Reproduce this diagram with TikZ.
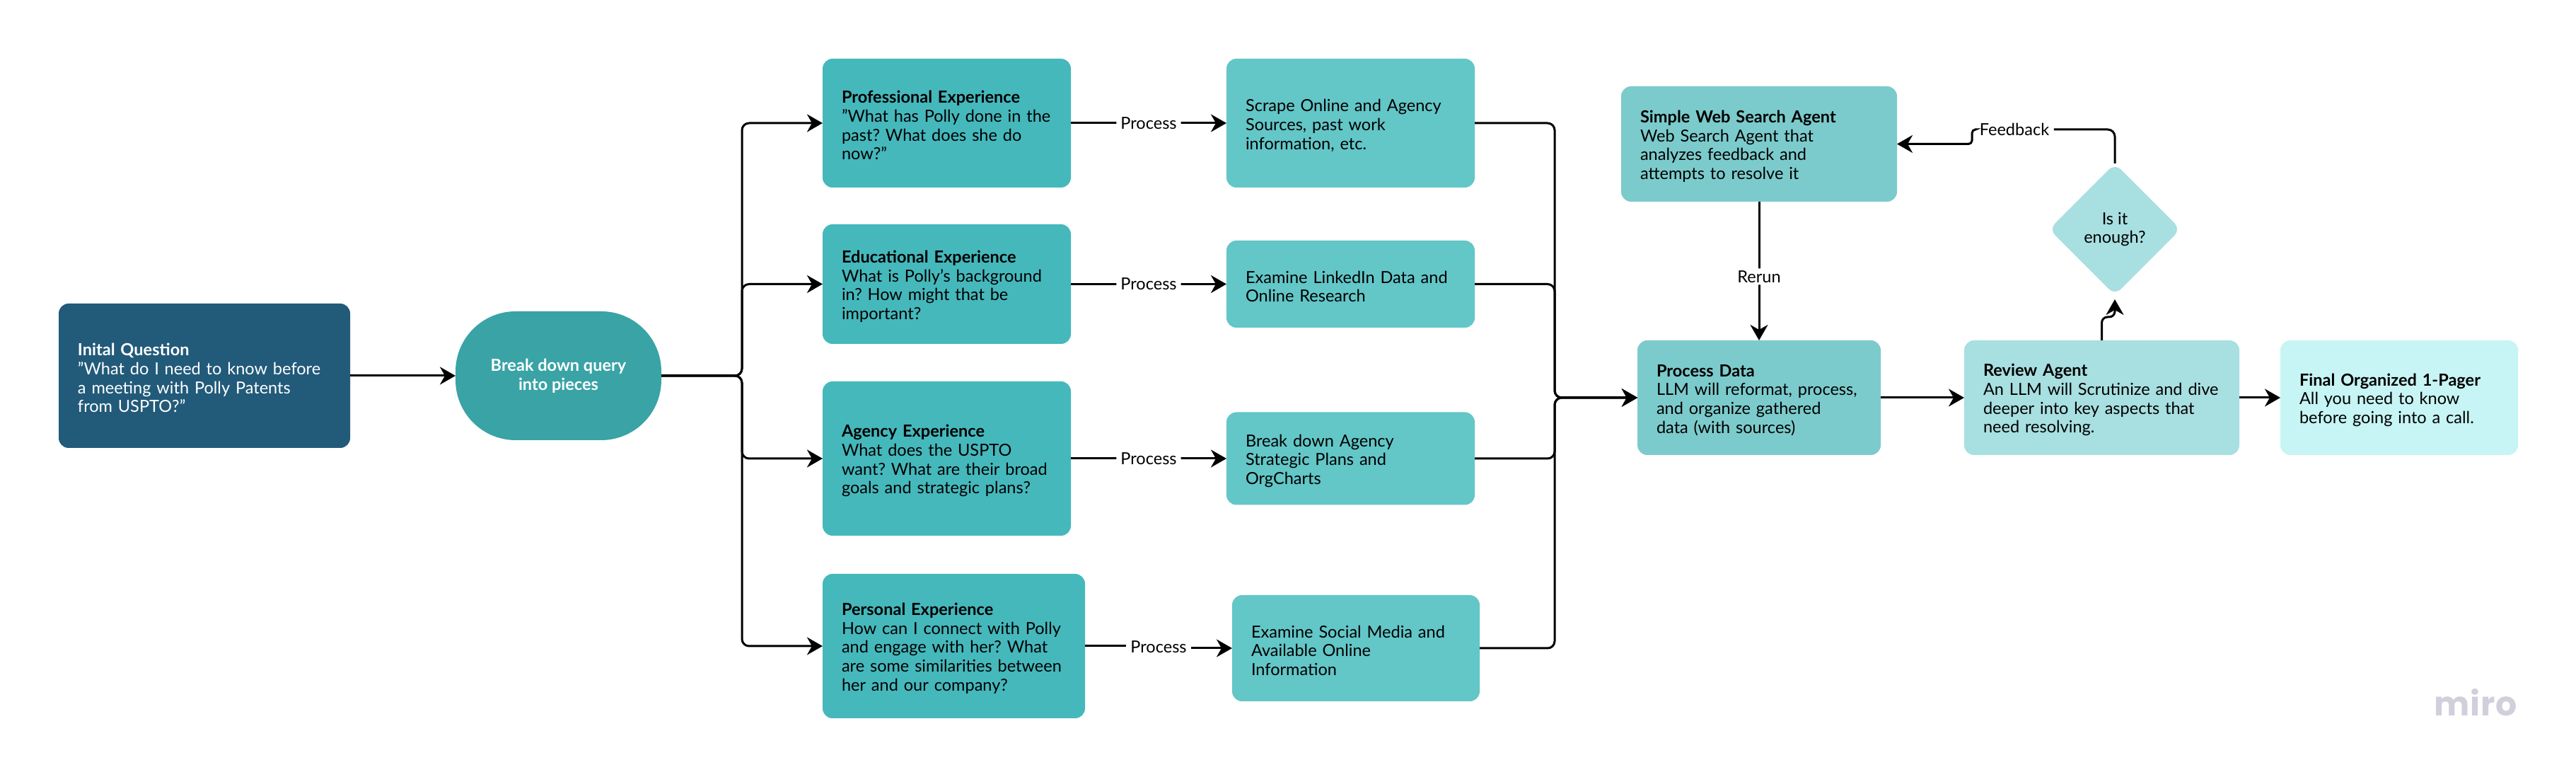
\documentclass[tikz,border=0pt]{standalone}
\usepackage{fontspec}
\setmainfont{Lato}
\newfontfamily\mirofont[LetterSpace=2]{Poppins}
\usetikzlibrary{positioning}
\usetikzlibrary{arrows.meta}
\usetikzlibrary{shapes.geometric,calc}
\definecolor{navy}{HTML}{225A7A}
\definecolor{pillteal}{HTML}{39A3A6}
\definecolor{deepteal}{HTML}{45B8BC}
\definecolor{midteal}{HTML}{63C6C7}
\definecolor{softteal}{HTML}{7CCBCC}
\definecolor{paleteal}{HTML}{A8DFE1}
\definecolor{iceteal}{HTML}{C7F4F4}
\definecolor{miroink}{HTML}{D0CFDB}
\newcommand{\labelfont}{\fontsize{6.7}{7.6}\selectfont\frenchspacing}
\tikzset{
    card/.style 2 args={
        rounded corners=0.14cm,
        inner xsep=0.27cm,
        inner ysep=0pt,
        outer sep=0pt,
        text width=#1cm-0.54cm,
        minimum height=#2cm,
        align=left,
        font=\labelfont,
        execute at begin node={\rule{0pt}{0.24cm}}
    },
    wire/.style={line width=0.03cm, rounded corners=0.1cm},
    flow/.style={wire, -{Stealth[length=0.22cm,width=0.25cm,inset=0.07cm]}},
    tag/.style={fill=white, inner xsep=0.06cm, inner ysep=0.03cm, font=\labelfont}
}

\begin{document}
\begin{tikzpicture}
\useasboundingbox (0,0) rectangle (36.42,-10.98);

% Question
\node[card={4.12}{2.04}, fill=navy, text=white] (question) at (2.89,-5.31)
    {\textbf{Inital Question}\\"What do I need to know before\\a meeting with Polly Patents\\from USPTO?"};
\node[fill=pillteal, text=white,
    rounded corners=0.85cm,
    minimum width=2.91cm,
    minimum height=1.82cm,
    inner sep=0pt, outer sep=0pt,
    align=center,
    font=\labelfont\bfseries,
    right=1.49cm of question
] (pieces) {Break down query\\into pieces};

% Experience column
\node[card={3.51}{1.82}, fill=deepteal] (professional) at (13.385,-1.74)
    {\textbf{Professional Experience}\\"What has Polly done in the\\past? What does she do\\now?"};
\node[card={3.51}{1.69}, fill=deepteal, below=0.52cm of professional] (educational)
    {\textbf{Educational Experience}\\What is Polly's background\\in? How might that be\\important?};
\node[card={3.51}{2.18}, fill=deepteal, below=0.53cm of educational] (agency)
    {\textbf{Agency Experience}\\What does the USPTO\\want? What are their broad\\goals and strategic plans?};
\node[card={3.71}{2.04}, fill=deepteal, below right=0.54cm and 0cm of agency.south west] (personal)
    {\textbf{Personal Experience}\\How can I connect with Polly\\and engage with her? What\\are some similarities between\\her and our company?};

% Process column
\node[card={3.51}{1.82}, fill=midteal, right=2.20cm of professional] (scrape)
    {Scrape Online and Agency\\Sources, past work\\information, etc.};
\node[card={3.51}{1.23}, fill=midteal, right=2.20cm of educational] (linkedin)
    {Examine LinkedIn Data and\\Online Research};
\node[card={3.51}{1.31}, fill=midteal, right=2.20cm of agency] (orgchart)
    {Break down Agency\\Strategic Plans and\\OrgCharts};
\node[card={3.50}{1.50}, fill=midteal, right=2.08cm of personal, yshift=-0.03cm] (social)
    {Examine Social Media and\\Available Online\\Information};

% Right part
\node[card={3.44}{1.62}, fill=softteal] (data) at (24.87,-5.62)
    {\textbf{Process Data}\\LLM will reformat, process,\\and organize gathered\\data (with sources)};
\node[card={3.90}{1.63}, fill=softteal] (search) at (24.87,-2.035)
    {\textbf{Simple Web Search Agent}\\Web Search Agent that\\analyzes feedback and\\attempts to resolve it};
\node[card={3.89}{1.62}, fill=paleteal, right=1.18cm of data] (review)
    {\textbf{Review Agent}\\An LLM will Scrutinize and dive\\deeper into key aspects that\\need resolving.};
\node[card={3.36}{1.62}, fill=iceteal, right=0.58cm of review] (final)
    {\textbf{Final Organized 1-Pager}\\All you need to know\\before going into a call.};
\node[diamond, fill=paleteal, rounded corners=0.12cm,
    minimum width=1.86cm,
    minimum height=1.86cm,
    inner sep=0pt, outer sep=0pt,
    align=center,
    font=\labelfont
] (enough) at (29.90,-3.24) {Is it\\enough?};

\node[text=miroink, font=\fontsize{13.5}{13.5}\mirofont\bfseries, inner sep=0pt] (miro) at (35.00,-9.93) {miro};

% Split and merge points
\coordinate (split) at (10.49,-5.31);
\coordinate (merge) at (21.98,-5.62);

\draw[flow] (question.east) -- (pieces.west);
\draw[flow] (pieces.east) -- (split) |- (professional.west);
\draw[flow] (pieces.east) -- (split) |- (educational.west);
\draw[flow] (pieces.east) -- (split) |- (agency.west);
\draw[flow] (pieces.east) -- (split) |- (personal.west);

\draw[flow] (professional.east) -- (scrape.west) node[midway,tag]{Process};
\draw[flow] (educational.east) -- (linkedin.west) node[midway,tag]{Process};
\draw[flow] (agency.east) -- (orgchart.west) node[midway,tag]{Process};
\node[tag] (process4) at ($(personal.east)!0.5!(social.west)$) {Process};
\draw[wire] (personal.east) -- (personal.east -| process4.west);
\draw[flow] (process4.east |- social.west) -- (social.west);

\draw[flow] (scrape.east) -| (merge) -- (data.west);
\draw[flow] (linkedin.east) -| (merge) -- (data.west);
\draw[flow] (orgchart.east) -| (merge) -- (data.west);
\draw[flow] (social.east) -| (merge) -- (data.west);

\draw[flow] (data.east) -- (review.west);
\draw[flow] (review.east) -- (final.west);
\draw[flow, rounded corners=0.08cm] (review.north) -- ++(0,0.33) -| ([yshift=-0.06cm]enough.south);

\node[tag, fill=none] (feedback) at (28.48,-1.83) {Feedback};
\draw[wire] (enough.north) |- (feedback.east);
\draw[flow, rounded corners=0.05cm] (feedback.west) -- ++(-0.04,0) |- (search.east);
\draw[flow] (search.south) -- (data.north) node[pos=0.54,tag]{Rerun};

\end{tikzpicture}
\end{document}
